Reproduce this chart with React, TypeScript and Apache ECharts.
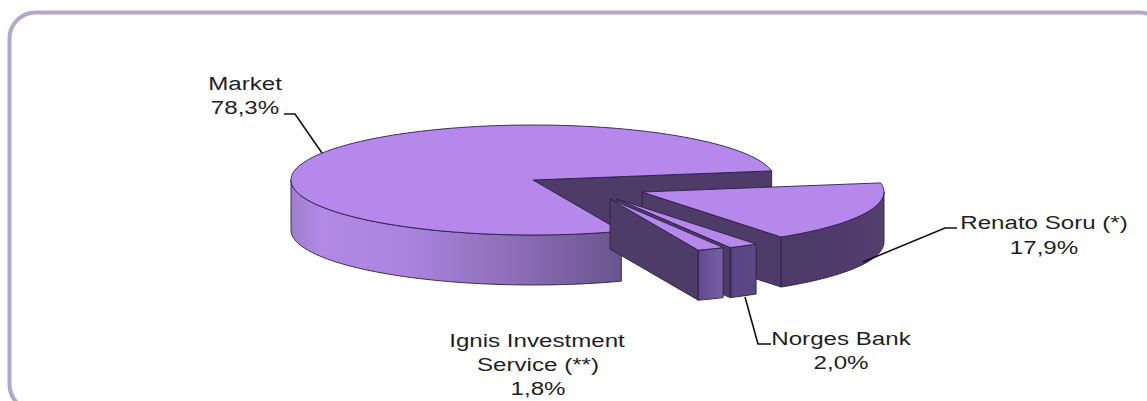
import React, { useEffect, useRef } from "react";
import * as echarts from "echarts";

const sliceNames = ["Market", "Renato Soru (*)", "Norges Bank", "Ignis Investment Service (**)"];
const sliceValues = [78.3, 17.9, 2.0, 1.8];
const labelLines = [
  ["Market", "78,3%"],
  ["Renato Soru (*)", "17,9%"],
  ["Norges Bank", "2,0%"],
  ["Ignis Investment", "Service (**)", "1,8%"],
];

const FONT = '"Liberation Sans", Arial, sans-serif';
const TOP = "#b688ec";
const WALL = "#4f3b68";
const EDGE = "#2b1f45";
const RX = 242;
const RY = 55;
const DEPTH = 50;
const START_DEG = 68.6;
// apex of each slice on screen (the pie is exploded)
const apexes = [
  [533, 180],
  [642, 192],
  [617, 199],
  [610, 199],
];

function grad(stops: [number, string][]) {
  return new echarts.graphic.LinearGradient(0, 0, 1, 0, stops.map(([offset, color]) => ({ offset, color })));
}
const sideFills = [
  grad([[0, "#9d80cc"], [0.09, "#b388e6"], [0.35, "#ab84de"], [0.7, "#8a6cb4"], [1, "#6a5490"]]),
  grad([[0, "#4d3a68"], [0.7, "#503b6c"], [1, "#55406f"]]),
  grad([[0, "#46356a"], [0.15, "#5a4587"], [1, "#5c4880"]]),
  grad([[0, "#62498e"], [1, "#7a5fa6"]]),
];

const RAD = Math.PI / 180;
function rim(cx: number, cy: number, deg: number, dy = 0) {
  return [cx + RX * Math.cos(deg * RAD), cy + RY * Math.sin(deg * RAD) + dy];
}
function arc(cx: number, cy: number, from: number, to: number, dy = 0) {
  const n = Math.max(2, Math.ceil(Math.abs(to - from) / 2));
  const pts: number[][] = [];
  for (let i = 0; i <= n; i++) pts.push(rim(cx, cy, from + ((to - from) * i) / n, dy));
  return pts;
}
function poly(points: number[][], fill: any) {
  return { type: "polygon", shape: { points }, style: { fill, stroke: EDGE, lineWidth: 0.9, lineJoin: "round" } };
}
function wall(cx: number, cy: number, deg: number) {
  const e = rim(cx, cy, deg);
  return poly([[cx, cy], e, [e[0], e[1] + DEPTH], [cx, cy + DEPTH]], WALL);
}

function renderSlice(params: any, api: any) {
  const i = params.dataIndex;
  let before = 0;
  for (let k = 0; k < i; k++) before += sliceValues[k];
  let a0 = START_DEG + before * 3.6;
  let a1 = a0 + api.value(0) * 3.6;
  if (i > 0) {
    a0 -= 360;
    a1 -= 360;
  }
  const [cx, cy] = apexes[i];
  const children: any[] = [];
  // the clockwise-end cut of every slice faces the viewer
  children.push(wall(cx, cy, a1));
  // outer rim: only the part that faces the viewer
  const from = i === 0 ? a0 : Math.max(a0, 0);
  const to = i === 0 ? 180 : a1;
  children.push(poly([...arc(cx, cy, from, to), ...arc(cx, cy, to, from, DEPTH)], sideFills[i]));
  children.push(poly([[cx, cy], ...arc(cx, cy, a0, a1)], TOP));
  return { type: "group", children };
}

function textLine(text: string, x: number, baseline: number) {
  return {
    type: "text",
    x,
    y: baseline + 4,
    scaleX: 1.27,
    z: 20,
    style: { text, fill: "#1f1f1f", font: `19px ${FONT}`, align: "center", verticalAlign: "bottom" },
  };
}
function leader(points: number[][]) {
  return {
    type: "polyline",
    z: 19,
    shape: { points },
    style: { fill: "none", stroke: "#111", lineWidth: 1.6 },
  };
}

export default function App() {
  const ref = useRef<HTMLDivElement>(null);
  useEffect(() => {
    const chart = echarts.init(ref.current!, undefined, { renderer: "svg" });
    chart.setOption({
      animation: false,
      backgroundColor: "#fff",
      graphic: [
        {
          type: "rect",
          z: 0,
          shape: { x: 9.5, y: 12.5, width: 1156, height: 398, r: 26 },
          style: { fill: "none", stroke: "#b5a6cc", lineWidth: 4 },
        },
        leader([[284, 114], [295, 114], [322, 153]]),
        leader([[957, 228], [945, 228], [863, 262]]),
        leader([[745, 297], [758, 344], [771, 344]]),
        textLine(labelLines[0][0], 245, 89),
        textLine(labelLines[0][1], 245, 113),
        textLine(labelLines[1][0], 1044, 228),
        textLine(labelLines[1][1], 1044, 253),
        textLine(labelLines[2][0], 841, 344),
        textLine(labelLines[2][1], 841, 368),
        textLine(labelLines[3][0], 537, 346),
        textLine(labelLines[3][1], 538, 370),
        textLine(labelLines[3][2], 538, 394),
      ],
      series: [
        {
          type: "custom",
          coordinateSystem: "none",
          silent: true,
          renderItem: renderSlice,
          data: sliceValues.map((value, i) => ({ name: sliceNames[i], value: [value] })),
        },
      ],
    });
    return () => chart.dispose();
  }, []);
  return <div ref={ref} style={{ position: "fixed", left: 0, top: 0, width: 1147, height: 401 }} />;
}
